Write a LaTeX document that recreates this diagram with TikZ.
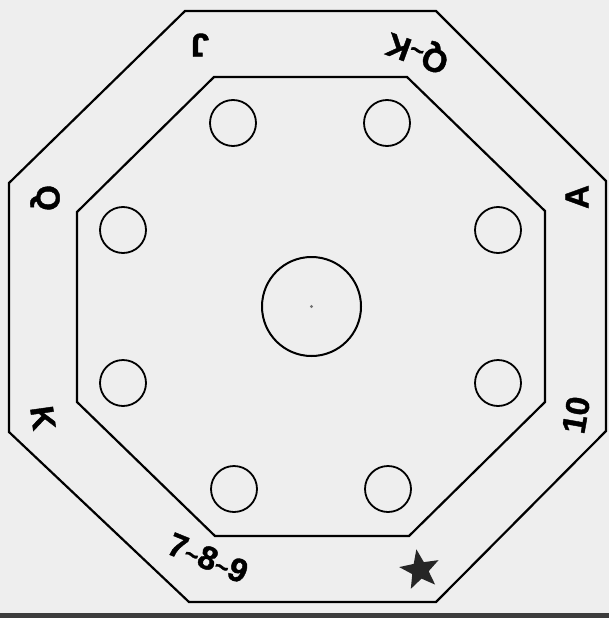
\documentclass[tikz,border=0pt]{standalone}
\usepackage{fontspec}
\setmainfont{Liberation Sans}[BoldFeatures={FakeBold=1.2}]
\usetikzlibrary{shapes.geometric}
\definecolor{bg}{RGB}{238,238,238}
\definecolor{edge}{RGB}{60,60,60}
\newcommand{\tld}{{\fontsize{24}{24}\selectfont\textasciitilde}}
\begin{document}
\begin{tikzpicture}[x=1pt,y=-1pt,
  rim/.style={draw=black, line width=2.2pt, line join=miter},
  seat/.style={circle, draw=black, minimum size=46pt, inner sep=0pt, line width=1.8pt},
  hub/.style={circle, draw=black, minimum size=99pt, inner sep=0pt, line width=2pt},
  lbl/.style={font=\fontsize{33}{33}\bfseries\selectfont, inner sep=0pt, text=black}]
\fill[bg] (0,0) rectangle (609,618);
\useasboundingbox (0,0) rectangle (609,618);
% scan border at bottom
\fill[edge] (0,613) rectangle (609,618);
% outer octagon
\draw[rim] (185,11) -- (436,11) -- (606,181) -- (606,431) -- (436,602)
  -- (189,602) -- (9,432) -- (9,183) -- cycle;
% inner octagon
\draw[rim] (214,77) -- (407,77) -- (545,211) -- (545,402) -- (409,536)
  -- (215,536) -- (77,402) -- (77,212) -- cycle;
% seats
\node[seat] (s1) at (233,123) {};
\node[seat] (s2) at (387,123) {};
\node[seat] (s3) at (123,230) {};
\node[seat] (s4) at (498,230) {};
\node[seat] (s5) at (123,383) {};
\node[seat] (s6) at (498,383) {};
\node[seat] (s7) at (234,489) {};
\node[seat] (s8) at (388,489) {};
% centre
\node[hub] (hub) at (311.5,306.5) {};
\fill[black!55] (hub.center) circle (1.6pt);
% labels
\node[lbl, rotate=180] (J) at (200,45) {J};
\node[lbl, rotate=160] (QK) at (418,51) {Q\tld K};
\node[lbl, rotate=90] (A) at (577,197) {A};
\node[lbl, rotate=80] (ten) at (576,415) {10};
\node[lbl, rotate=-90] (Q) at (45,198) {Q};
\node[lbl, rotate=-82] (K) at (43,418) {K};
\node[lbl, rotate=-22] (n789) at (208,558) {7\tld 8\tld 9};
\node[star, star points=5, star point ratio=2.4, fill=black!85, minimum size=42pt,
  inner sep=0pt, rotate=10] (star) at (420,570) {};
\end{tikzpicture}
\end{document}
